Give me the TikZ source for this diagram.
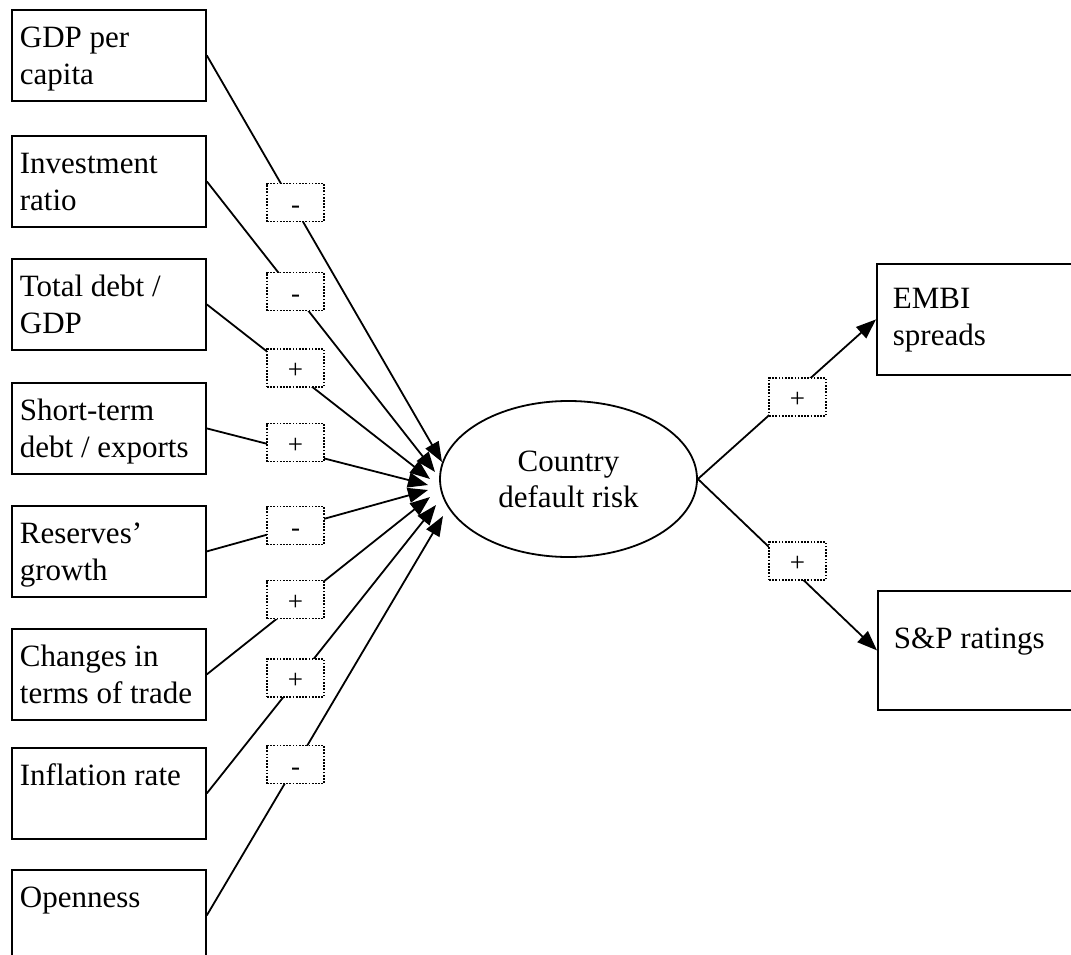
\documentclass[tikz,border=0pt]{standalone}
\usepackage{fontspec}
\setmainfont{Liberation Serif}
\usetikzlibrary{shapes.geometric,arrows.meta}

\begin{document}
\begin{tikzpicture}[x=1pt,y=-1pt,line width=1.8pt,%
% common options for the factor blocks:
block/.style = {draw, align=flush left, anchor=north west, text width=178pt,
            inner xsep=8pt, inner ysep=0pt, text height=38pt, text depth=53pt,
            font=\fontsize{31}{37}\selectfont},
% common options for the sign boxes:
sign/.style = {draw, fill=white, line width=1.7pt, dash pattern=on 1.7pt off 1.5pt,
            minimum width=57pt, minimum height=38pt, inner sep=0,
            text height=21pt, text depth=0pt, font=\fontsize{27}{27}\selectfont},
% common options for the arrows:
link/.style = {-{Triangle[length=20pt,width=15pt]}}]
\useasboundingbox (0,0) rectangle (1071,955);
\clip (0,0) rectangle (1071,955);
\node[block] (A1) at (11,9) {GDP per\\capita};
\node[block] (A2) at (11,135) {Investment\\ratio};
\node[block] (A3) at (11,258) {Total debt /\\GDP};
\node[block] (A4) at (11,382) {Short-term\\debt / exports};
\node[block] (A5) at (11,505) {Reserves'\\growth};
\node[block] (A6) at (11,628) {Changes in\\terms of trade};
\node[block] (A7) at (11,747) {Inflation rate};
\node[block] (A8) at (11,869) {Openness};
\node[ellipse,draw,minimum width=257pt,minimum height=156pt,inner sep=0,align=center,
      font=\fontsize{31}{36}\selectfont] (R) at (568.5,479) {Country\\default risk};
\node[block,text width=214pt,inner xsep=16pt,text height=45pt,text depth=66pt] (B1) at (876,263) {EMBI\\spreads};
\node[block,text width=214pt,inner xsep=16pt,text height=58pt,text depth=61pt] (B2) at (877,590) {S\&P ratings};
% arrow tips in front of the ellipse
\coordinate (P1) at (442,462);
\coordinate (P2) at (435,472);
\coordinate (P3) at (430,479);
\coordinate (P4) at (428,485);
\coordinate (P5) at (428,490);
\coordinate (P6) at (430,497);
\coordinate (P7) at (436,505);
\coordinate (P8) at (443,516);
\draw[link] (A1.east) to (P1);
\draw[link] (A2.east) to (P2);
\draw[link] (A3.east) to (P3);
\draw[link] (A4.east) to (P4);
\draw[link] (A5.east) to (P5);
\draw[link] (A6.east) to (P6);
\draw[link] (A7.east) to (P7);
\draw[link] (A8.east) to (P8);
\draw[link] (R.east) to (B1.west);
\draw[link] (R.east) to (B2.west);
\node[sign] (S1) at (295.5,202.5) {-};
\node[sign] (S2) at (295.5,291.5) {-};
\node[sign] (S3) at (295.5,368) {+};
\node[sign] (S4) at (295.5,442.5) {+};
\node[sign] (S5) at (295.5,525.5) {-};
\node[sign] (S6) at (295.5,599.5) {+};
\node[sign] (S7) at (295.5,678) {+};
\node[sign] (S8) at (295.5,764.5) {-};
\node[sign] (T1) at (797.5,397) {+};
\node[sign] (T2) at (797.5,561) {+};
\end{tikzpicture}
\end{document}
